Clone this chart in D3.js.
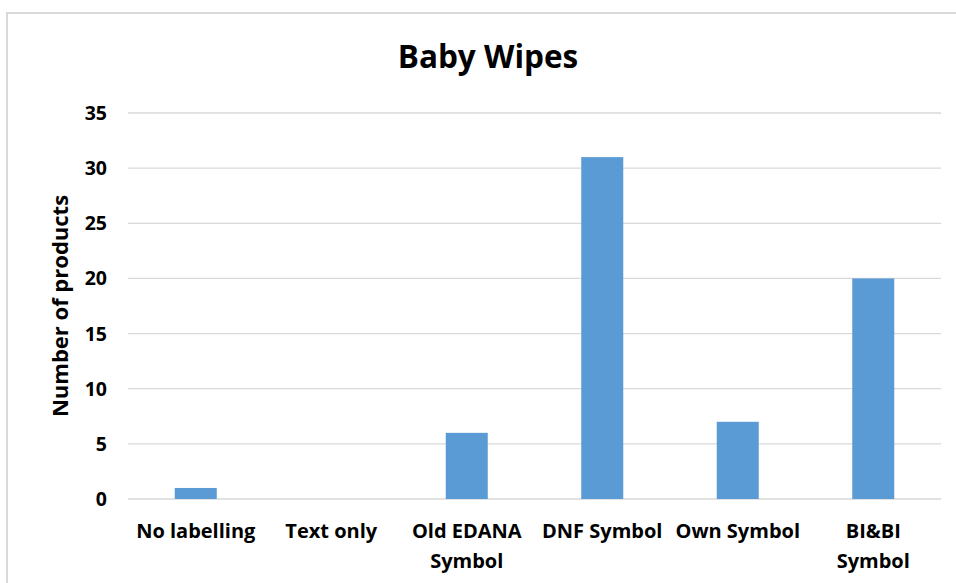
<!DOCTYPE html>
<html><head><meta charset="utf-8">
<script src="https://cdn.jsdelivr.net/npm/d3@7"></script>
<style>body{margin:0;background:#fff}svg{display:block}text{font-family:"Open Sans",Lato,sans-serif;font-weight:bold;fill:#000}</style>
</head><body>
<svg id="c" width="956" height="583"></svg>
<script>
const categories = [["No labelling"], ["Text only"], ["Old EDANA", "Symbol"], ["DNF Symbol"], ["Own Symbol"], ["BI&BI", "Symbol"]];
const values = [1, 0, 6, 31, 7, 20];
const yTicks = [0, 5, 10, 15, 20, 25, 30, 35];
const title = "Baby Wipes";
const yLabel = "Number of products";

const svg = d3.select("#c");
// chart border (top and left visible)
svg.append("path").attr("d","M7,583 V13 H956").attr("fill","none").attr("stroke","#d9d9d9").attr("stroke-width",2);

const pLeft = 128, pRight = 941, pTop = 113, pBottom = 499;
const x = d3.scaleBand().domain(d3.range(categories.length)).range([pLeft, pRight]).paddingInner(0.69).paddingOuter(0.345);
const y = d3.scaleLinear().domain([0, 35]).range([pBottom, pTop]);

svg.append("g").selectAll("line").data(yTicks).join("line")
  .attr("x1", pLeft).attr("x2", pRight).attr("y1", d => y(d)).attr("y2", d => y(d))
  .attr("stroke", "#d9d9d9").attr("stroke-width", 1.3);

svg.append("g").selectAll("text").data(yTicks).join("text")
  .attr("x", 107).attr("y", d => y(d)).attr("dy", "0.36em").attr("text-anchor", "end")
  .attr("font-size", 19.5).text(d => d);

svg.append("g").selectAll("rect").data(values).join("rect")
  .attr("x", (d, i) => x(i)).attr("width", x.bandwidth())
  .attr("y", d => y(d)).attr("height", d => pBottom - y(d))
  .attr("fill", "#5b9bd5");

const lab = svg.append("g").selectAll("text").data(categories).join("text")
  .attr("x", (d, i) => x(i) + x.bandwidth() / 2).attr("y", 538)
  .attr("text-anchor", "middle").attr("font-size", 20);
lab.selectAll("tspan").data(d => d).join("tspan")
  .attr("x", function(){ return this.parentNode.getAttribute("x"); })
  .attr("dy", (d, j) => j === 0 ? 0 : 30).text(d => d);

svg.append("text").attr("x", 488).attr("y", 68).attr("text-anchor", "middle")
  .attr("font-size", 31.5).text(title);

svg.append("text").attr("transform", "translate(68,306) rotate(-90)")
  .attr("text-anchor", "middle").attr("font-size", 22).text(yLabel);
</script>
</body></html>
